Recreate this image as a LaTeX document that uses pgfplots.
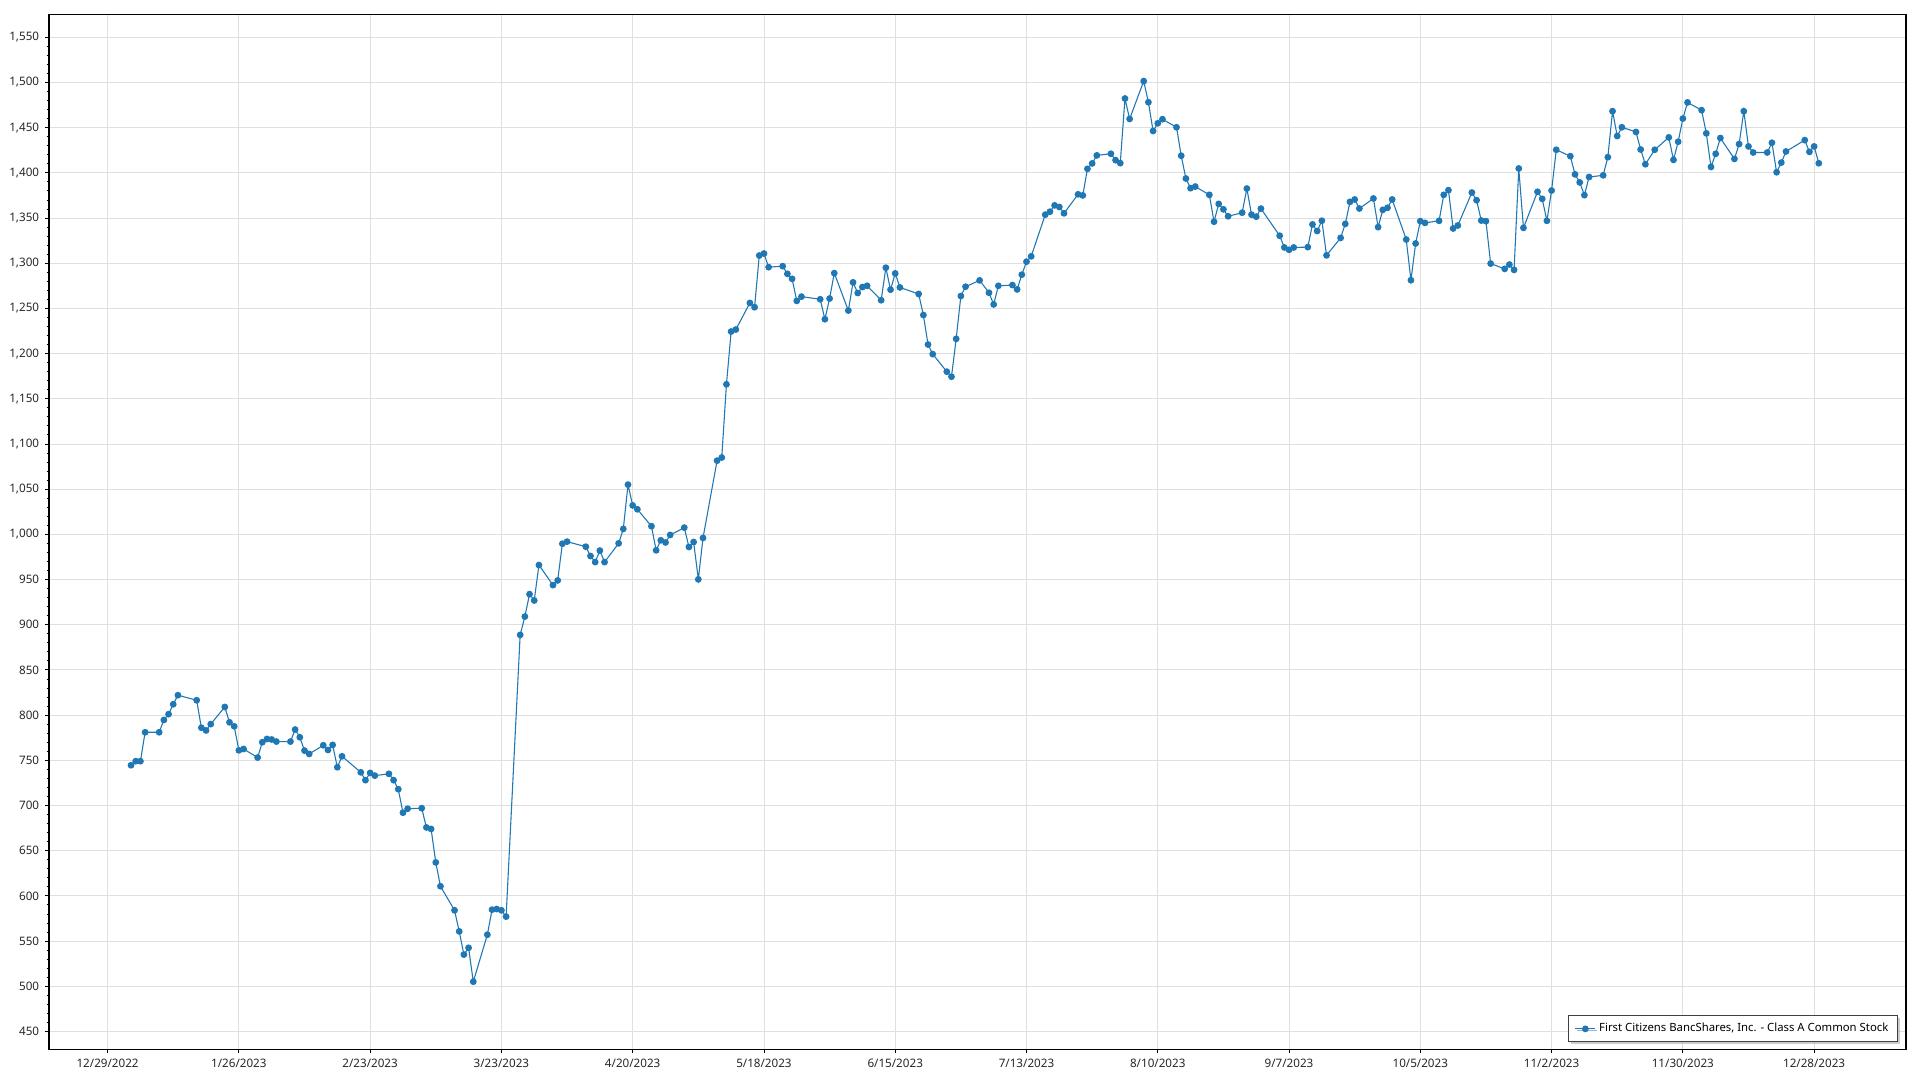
\documentclass[border=0pt]{standalone}
\usepackage{fontspec}
\setmainfont{Noto Sans}
\usepackage{pgfplots}
\pgfplotsset{compat=1.18}
\usetikzlibrary{shadows}
\definecolor{series}{RGB}{31,119,180}
\definecolor{gridc}{RGB}{223,223,223}
\pgfplotstableread{
d v
5 744.5
6 749
7 749
8 781
11 781
12 794.6
13 801
14 812
15 822
19 816.4
20 786
21 783
22 790
25 809
26 792
27 787.6
28 761
29 762.5
32 753
33 770
34 773.6
35 773
36 770.7
39 770.7
40 784
41 775.5
42 760.7
43 757
46 766.6
47 761.4
48 767
49 742.3
50 754.4
54 736.7
55 728
56 736
57 733
60 735
61 728
62 718
63 692
64 696.4
67 697
68 675.7
69 674
70 637
71 610.6
74 584
75 560.7
76 535
77 542.5
78 505
81 557
82 584.7
83 585.4
84 584
85 577
88 888.7
89 909
90 933.8
91 926.8
92 966
95 943.8
96 949
97 989.6
98 991.9
102 986.3
103 976
104 969.3
105 982
106 969.3
109 990
110 1006
111 1055
112 1032
113 1027.7
116 1009
117 982.3
118 993.4
119 991
120 999.3
123 1007.4
124 986
125 991.5
126 950.2
127 996
130 1081.5
131 1085
132 1166
133 1224.4
134 1226.6
137 1256
138 1251.3
139 1308.5
140 1310.7
141 1295.6
144 1296.7
145 1288.2
146 1282.7
147 1258.3
148 1263
152 1260.1
153 1238
154 1260.9
155 1289
158 1247.6
159 1278.8
160 1267
161 1273.6
162 1275
165 1259
166 1295
167 1270.7
168 1288.7
169 1273.2
173 1265.9
174 1242.6
175 1210
176 1199.4
179 1180
180 1174.4
181 1216.3
182 1263.7
183 1274
186 1281
188 1267.3
189 1254.4
190 1275
193 1275.8
194 1271
195 1287.3
196 1301.7
197 1307.6
200 1353.7
201 1357
202 1364
203 1362.2
204 1355.2
207 1376.2
208 1375
209 1404.4
210 1410.4
211 1419.3
214 1421.1
215 1414
216 1410.7
217 1482.2
218 1459.6
221 1501.5
222 1478.1
223 1446.3
224 1454.8
225 1459.3
228 1450.4
229 1418.9
230 1393.7
231 1383
232 1384.8
235 1375.6
236 1345.9
237 1365.6
238 1359.6
239 1351.9
242 1355.9
243 1382.6
244 1353.7
245 1351.5
246 1360.4
250 1330.4
251 1317.4
252 1314.8
253 1317.4
256 1317.8
257 1342.9
258 1335.6
259 1347
260 1308.7
263 1328
264 1343.5
265 1367.9
266 1370.5
267 1360.5
270 1371.6
271 1339.9
272 1359
273 1361.3
274 1370.5
277 1326.2
278 1281.2
279 1321.8
280 1346.5
281 1344.6
284 1346.9
285 1375.6
286 1380.8
287 1338.4
288 1341.7
291 1378.2
292 1369.7
293 1347.2
294 1346.5
295 1299.6
298 1293.7
299 1298.5
300 1292.6
301 1404.8
302 1339.1
305 1379
306 1371.2
307 1346.9
308 1380.4
309 1425.5
312 1418.4
313 1398.3
314 1389.4
315 1375.3
316 1395.4
319 1397.2
320 1417.3
321 1468.2
322 1440.7
323 1450.4
326 1445.2
327 1425.8
328 1409.5
330 1425.5
333 1439.2
334 1414.3
335 1434.4
336 1460
337 1477.9
340 1469.3
341 1443.7
342 1406.5
343 1421
344 1438.5
347 1415.4
348 1431.8
349 1468.2
350 1429.2
351 1422.5
354 1422.5
355 1433.3
356 1400.6
357 1411.3
358 1423.6
362 1436.2
363 1423.2
364 1429.2
365 1410.6
}\datatable
\begin{document}
\begin{tikzpicture}
\begin{axis}[
  scale only axis,
  width=1114.2pt, height=620.9pt,
  xmin=-12.5, xmax=383.6,
  ymin=430, ymax=1575,
  axis line style={black, line width=0.9pt},
  xtick={0,28,...,364},
  xticklabels={12/29/2022,1/26/2023,2/23/2023,3/23/2023,4/20/2023,5/18/2023,6/15/2023,7/13/2023,8/10/2023,9/7/2023,10/5/2023,11/2/2023,11/30/2023,12/28/2023},
  ytick={450,500,...,1550},
  minor y tick num=4,
  scaled y ticks=false,
  yticklabel style={/pgf/number format/fixed, /pgf/number format/precision=0, /pgf/number format/1000 sep={,}, /pgf/number format/assume math mode=true},
  tick label style={font=\fontsize{7}{8}\selectfont, text=black!85},
  xtick pos=bottom, ytick pos=left,
  tick align=outside,
  major tick length=2.4pt, minor tick length=1.4pt,
  tick style={black, line width=0.5pt},
  grid=major,
  major grid style={gridc, line width=0.5pt},
  legend style={at={(rel axis cs:0.9957,0.0068)}, anchor=south east,
    draw=black!75, line width=0.6pt, fill=white,
    drop shadow={shadow xshift=1.2pt, shadow yshift=-1.2pt, fill=black!40},
    font=\fontsize{6.8}{8}\selectfont, inner xsep=3.5pt, inner ysep=2.5pt},
  legend cell align=left,
  legend image code/.code={\draw[mark repeat=2,mark phase=2] plot coordinates {(0pt,0pt)(6pt,0pt)(12pt,0pt)};},
]
\addplot[color=series, line width=0.65pt, mark=*, mark size=1.7pt, mark options={fill=series, draw=series}] table[x=d,y=v] {\datatable};
\addlegendentry{First Citizens BancShares, Inc. - Class A Common Stock}
\end{axis}
\pgfresetboundingbox
\useasboundingbox ([shift={(-29.4pt,-18.3pt)}]current axis.south west) rectangle ([shift={(8.4pt,8.8pt)}]current axis.north east);
\end{tikzpicture}
\end{document}
